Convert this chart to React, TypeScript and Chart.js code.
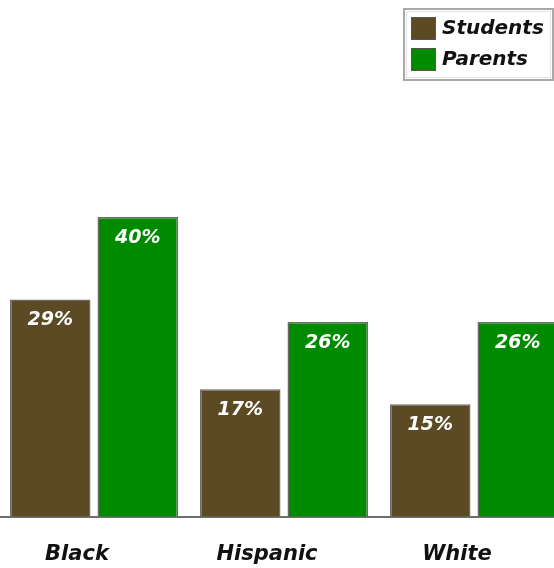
import React, { useEffect, useRef } from "react";
import { Chart, registerables } from "chart.js";

Chart.register(...registerables);

const categories = ["Black", "Hispanic", "White"];
const studentsValues = [29, 17, 15];
const parentsValues = [40, 26, 26];
const seriesLabels = ["Students", "Parents"];
const seriesColors = ["#5b4a23", "#008a00"];
const yMax = 60;

const FONT = "'DejaVu Sans', sans-serif";

const valueLabelPlugin = {
  id: "valueLabels",
  afterDatasetsDraw(chart: any) {
    const ctx = chart.ctx;
    ctx.save();
    ctx.fillStyle = "#ffffff";
    ctx.font = `italic bold 19px ${FONT}`;
    ctx.textAlign = "center";
    ctx.textBaseline = "middle";
    chart.data.datasets.forEach((ds: any, di: number) => {
      const meta = chart.getDatasetMeta(di);
      meta.data.forEach((el: any, i: number) => {
        ctx.fillText(`${ds.data[i]}%`, el.x, el.y + 21);
      });
    });
    ctx.restore();
  },
};

const boxLegendPlugin = {
  id: "boxLegend",
  afterDraw(chart: any) {
    const ctx = chart.ctx;
    const left = chart.width - 165;
    const top = 9;
    const w = 149;
    const h = 71;
    ctx.save();
    ctx.fillStyle = "#ffffff";
    ctx.fillRect(left, top, w, h);
    ctx.strokeStyle = "#a8a8a8";
    ctx.lineWidth = 2;
    ctx.strokeRect(left, top, w, h);
    ctx.strokeStyle = "#e2e2e2";
    ctx.lineWidth = 1;
    ctx.strokeRect(left + 2.5, top + 2.5, w - 5, h - 5);
    chart.data.datasets.forEach((ds: any, i: number) => {
      const sy = top + 8 + i * 31;
      ctx.fillStyle = ds.backgroundColor;
      ctx.fillRect(left + 7, sy, 25, 23);
      ctx.strokeStyle = "#555555";
      ctx.lineWidth = 1;
      ctx.strokeRect(left + 7.5, sy + 0.5, 24, 22);
      ctx.fillStyle = "#111111";
      ctx.font = `italic bold 20px ${FONT}`;
      ctx.textAlign = "left";
      ctx.textBaseline = "middle";
      ctx.fillText(ds.label, left + 38, sy + 12);
    });
    ctx.restore();
  },
};

export default function App() {
  const canvasRef = useRef<HTMLCanvasElement | null>(null);

  useEffect(() => {
    if (!canvasRef.current) return;
    const chart = new Chart(canvasRef.current, {
      type: "bar",
      data: {
        labels: categories,
        datasets: [
          {
            label: seriesLabels[0],
            data: studentsValues,
            backgroundColor: seriesColors[0],
            borderColor: "#6a6a6a",
            borderWidth: 1.5,
            categoryPercentage: 0.921,
            barPercentage: 0.92,
          },
          {
            label: seriesLabels[1],
            data: parentsValues,
            backgroundColor: seriesColors[1],
            borderColor: "#6a6a6a",
            borderWidth: 1.5,
            categoryPercentage: 0.921,
            barPercentage: 0.92,
          },
        ],
      },
      options: {
        responsive: false,
        animation: false,
        devicePixelRatio: 1,
        layout: { padding: { top: 67, left: 0, right: 0, bottom: 0 } },
        plugins: {
          legend: { display: false },
          tooltip: { enabled: false },
        },
        scales: {
          x: {
            grid: { display: false, drawTicks: false },
            border: { display: true, color: "#6e6e6e", width: 2 },
            ticks: {
              color: "#111111",
              font: { family: FONT, size: 21, style: "italic", weight: "bold" },
              padding: 25,
              labelOffset: -17,
            },
          },
          y: {
            display: false,
            min: 0,
            max: yMax,
          },
        },
      },
      plugins: [valueLabelPlugin, boxLegendPlugin],
    });
    return () => chart.destroy();
  }, []);

  return (
    <div
      style={{
        position: "fixed",
        left: 0,
        top: 0,
        width: 554,
        height: 568,
        overflow: "hidden",
        background: "#ffffff",
      }}
    >
      <canvas
        ref={canvasRef}
        width={570}
        height={592}
        style={{ position: "absolute", left: -1, top: 0, width: 570, height: 592 }}
      />
    </div>
  );
}
